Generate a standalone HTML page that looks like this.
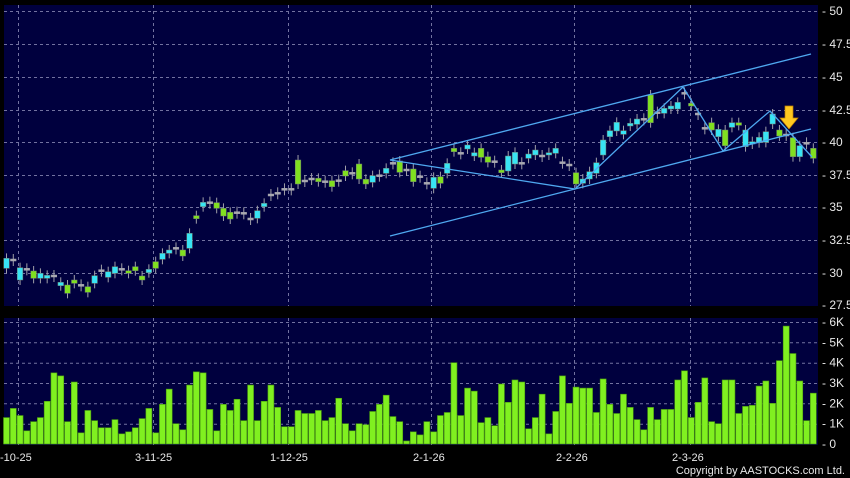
<!DOCTYPE html>
<html><head><meta charset="utf-8"><style>
html,body{margin:0;padding:0;background:#000;}
svg{display:block;}
text{font-family:"Liberation Sans",sans-serif;fill:#e8e8e8;}
</style></head><body>
<svg id="s" width="850" height="478" xmlns="http://www.w3.org/2000/svg">
<rect x="0" y="0" width="850" height="478" fill="#000"/>
<rect x="4" y="5" width="814" height="301" fill="#00003e"/>
<rect x="4" y="318" width="814" height="127" fill="#00003e"/>
<g id="grid" stroke="#7272a0" stroke-width="1" stroke-dasharray="3,3"></g>
<g id="vol"></g>
<g id="cnd"></g>
<g fill="none" stroke="#4fa8f0" stroke-width="1.3">
<line x1="390" y1="160" x2="811" y2="54"/>
<line x1="390" y1="236" x2="811" y2="129"/>
<polyline points="390,160 575,189 683,87 723,151 770,111 812,157"/>
</g>
<path d="M785,106 h8 v12 h5 l-9,11 l-9,-11 h5 z" fill="#ffc820" stroke="#c08000" stroke-width="0.7"/>
<g id="lab" font-size="12"></g>
<text x="845" y="474" font-size="11" text-anchor="end">Copyright by AASTOCKS.com Ltd.</text>
</svg>
<script>
var NS="http://www.w3.org/2000/svg";
function el(p,t,a,txt){var e=document.createElementNS(NS,t);for(var k in a)e.setAttribute(k,a[k]);if(txt!==undefined)e.textContent=txt;document.getElementById(p).appendChild(e);return e;}
var py=[11,44,77,110,142,175,207,240,273,305],pl=["50","47.5","45","42.5","40","37.5","35","32.5","30","27.5"];
py.forEach(function(y,i){if(i<9)el("grid","line",{x1:4,x2:818,y1:y+.5,y2:y+.5});el("lab","text",{x:822,y:y+4},"- "+pl[i]);});
var vy=[322,342.3,362.7,383,403.3,423.7,444],vl=["6K","5K","4K","3K","2K","1K","0"];
vy.forEach(function(y,i){if(i<6)el("grid","line",{x1:4,x2:818,y1:y+.5,y2:y+.5});el("lab","text",{x:822,y:y+4},"- "+vl[i]);});
[18,153,288,431,574,690].forEach(function(x){el("grid","line",{x1:x+.5,x2:x+.5,y1:5,y2:306});el("grid","line",{x1:x+.5,x2:x+.5,y1:318,y2:445});});
[[18,"-10-25"],[153,"3-11-25"],[288,"1-12-25"],[431,"2-1-26"],[574,"2-2-26"],[690,"2-3-26"]].forEach(function(d){el("lab","text",{x:d[0]-18,y:461,"font-size":11},d[1]);});
var v=[1.3,1.75,1.4,0.65,1.1,1.3,2.1,3.5,3.35,1.1,3.05,0.55,1.65,1.15,0.8,0.8,1.2,0.5,0.6,0.8,1.25,1.75,0.55,1.95,2.7,1.0,0.7,2.9,3.55,3.5,1.7,0.65,1.95,1.65,2.2,1.15,2.9,1.15,2.1,2.9,1.8,0.85,0.85,1.65,1.5,1.5,1.65,1.15,1.3,2.25,1.0,0.65,1.0,0.95,1.6,1.95,2.4,1.35,1.1,0.15,0.6,0.45,1.1,0.6,1.4,1.55,4.0,1.4,2.75,2.6,1.05,1.3,0.9,2.95,2.05,3.15,3.05,0.75,1.3,2.45,0.5,1.6,3.35,2.0,2.8,2.75,2.75,1.55,3.2,1.95,1.5,2.45,1.8,1.2,0.7,1.8,1.2,1.7,1.7,3.15,3.6,1.3,2.05,3.25,1.1,1.0,3.15,3.15,1.5,1.85,1.9,2.85,3.1,2.0,4.1,5.8,4.45,3.1,1.15,2.5];
v.forEach(function(h,i){var x=3.5+6.78*i,hh=h*20.33;el("vol","rect",{x:x,y:444-hh,width:6,height:hh,fill:"#80f020",stroke:"#4a9a10","stroke-width":0.6});});
// candles: [type, top, bottom] in zoom coords (*3); type c=cyan g=green d=doji
var C=[["c",775,805],["d",780],["c",803,840],["d",808],["g",813,835],["c",820,835],["c",826,835],["d",828],["c",847,857],["g",855,880],["g",840,850],["d",856],["g",860,877],["c",827,850],["d",812],["c",815,832],["c",800,820],["d",808],["g",812,820],["g",800,812],["g",828,840],["c",808,818],["g",785,805],["c",760,778],["c",750,760],["d",745],["g",750,768],["c",700,745],["g",647,656],["c",607,620],["d",608],["g",608,625],["g",625,648],["g",637,657],["d",638],["d",640],["d",657],["c",632,655],["c",610,620],["d",585],["d",580],["d",568],["d",568],["g",480,552],["d",543],["d",537],["g",535,545],["d",545],["g",542,560],["d",542],["g",512,528],["d",520],["g",492,537],["g",538,552],["c",527,547],["d",527],["c",505,520],["d",490],["g",483,517],["d",510],["g",507,545],["d",530],
["d",550],["c",532,565],["g",530,550],["c",490,520],["g",445,455],["d",460],["c",435,447],["c",458,468],["g",445,472],["g",470,487],["d",485],["g",510,518],["c",468,513],["c",457,492],["d",490],["c",462,475],["c",450,465],["d",468],["c",458,465],["c",445,460],["d",488],["d",495],["g",518,552],["c",537,550],["c",515,537],["c",488,520],["c",420,465],["c",392,410],["c",367,393],["c",392,403],["c",370,378],["c",357,373],["d",358],["g",285,368],["d",338],["c",325,340],["c",318,327],["c",307,327],["d",280],["g",310,318],["d",342],["d",385],["g",368,390],["c",388,410],["g",390,437],["c",368,382],["g",368,376],["c",390,440],["c",425,432],["c",412,428],["c",395,427],["c",342,372],["g",390,408],["d",405],["g",413,470],["c",437,470],["d",430],["g",445,475]];
C.forEach(function(c,i){var x=6.5+6.78*i,t,b;
 if(c[0]=="d"){t=c[1]/3-1;b=c[1]/3+1;}else{t=c[1]/3;b=c[2]/3;}
 el("cnd","line",{x1:x,x2:x,y1:t-5,y2:b+5,stroke:"#a0a0a8","stroke-width":1});
 var f=c[0]=="c"?"#38e4f4":c[0]=="g"?"#80e020":"#a8a8b0";
 el("cnd","rect",{x:x-2.8,y:t,width:5.6,height:Math.max(b-t,1.5),fill:f,stroke:c[0]=="d"?"#a8a8b0":"#708070","stroke-width":0.5});});
</script>
</body></html>
